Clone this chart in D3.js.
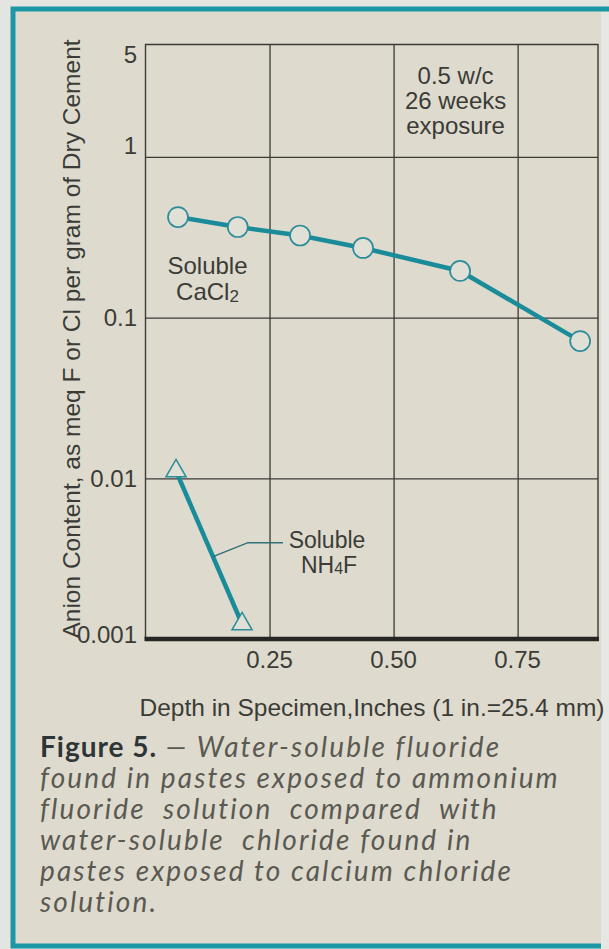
<!DOCTYPE html>
<html>
<head>
<meta charset="utf-8">
<script src="https://cdnjs.cloudflare.com/ajax/libs/d3/7.8.5/d3.min.js"></script>
<style>
  body { margin: 0; background: #e3e6e0; }
  svg { display: block; }
  .sans { font-family: "Liberation Sans", Arial, Helvetica, sans-serif; fill: #3b3b37; font-size: 24px; }
  .cap { font-family: Lato, "Open Sans", sans-serif; fill: #5a5952; }
</style>
</head>
<body>
<svg width="609" height="949"></svg>
<script>
// depth in inches / anion content (meq per gram of dry cement)
var depthCaCl2   = [0.0655, 0.186, 0.3115, 0.4385, 0.634, 0.876];
var solubleCaCl2 = [0.422, 0.366, 0.324, 0.271, 0.195, 0.0714];
var depthNH4F    = [0.0615, 0.1946];
var solubleNH4F  = [0.0111, 0.00124];

var xTicks      = [0.25, 0.50, 0.75];
var xTickLabels = ["0.25", "0.50", "0.75"];
var yTicks      = [0.001, 0.01, 0.1, 1, 5];
var yTickLabels = ["0.001", "0.01", "0.1", "1", "5"];

var captionLines = [
  "found in pastes exposed to ammonium",
  "fluoride  solution  compared  with",
  "water-soluble  chloride found in",
  "pastes exposed to calcium chloride",
  "solution."
];

var svg = d3.select("svg");

// page + teal frame
svg.append("rect").attr("x", 13).attr("y", 9).attr("width", 700).attr("height", 937)
    .attr("fill", "#dedbce").attr("stroke", "#1b97a6").attr("stroke-width", 5);
svg.append("rect").attr("x", 601).attr("y", 12).attr("width", 8).attr("height", 937)
    .attr("fill", "#e6e7e2");

var x = d3.scaleLinear().domain([0, 0.912]).range([145.5, 598]);
var y = d3.scaleLog().domain([0.001, 5]).range([639, 44.5]);

var g = svg.append("g");

// grid lines through the plot
g.append("g")
    .attr("transform", "translate(0," + y(0.001) + ")")
    .call(d3.axisBottom(x).tickValues(xTicks).tickSize(-(y(0.001) - y(5))).tickFormat(""))
    .call(function (a) { a.select(".domain").remove(); });
g.append("g")
    .attr("transform", "translate(" + x(0) + ",0)")
    .call(d3.axisLeft(y).tickValues([0.01, 0.1, 1]).tickSize(-(x.range()[1] - x(0))).tickFormat(""))
    .call(function (a) { a.select(".domain").remove(); });
g.selectAll(".tick line").attr("stroke", "#3a3a36").attr("stroke-width", 1.3);

// plot border, heavy base line
g.append("path")
    .attr("d", "M" + x(0) + "," + y(0.001) + "V" + y(5) + "H" + x.range()[1] + "V" + y(0.001))
    .attr("fill", "none").attr("stroke", "#3a3a36").attr("stroke-width", 1.4);
g.append("line")
    .attr("x1", x(0) - 1).attr("x2", x.range()[1] + 1)
    .attr("y1", y(0.001)).attr("y2", y(0.001))
    .attr("stroke", "#262623").attr("stroke-width", 4.5);

// tick labels
g.selectAll(".xlab").data(xTicks).enter().append("text")
    .attr("class", "sans xlab")
    .attr("x", function (d) { return x(d); })
    .attr("y", 668)
    .attr("text-anchor", "middle")
    .text(function (d, i) { return xTickLabels[i]; });

var yNudge = { "5": 10, "1": -11, "0.1": 0, "0.01": 0, "0.001": -5 };
g.selectAll(".ylab").data(yTicks).enter().append("text")
    .attr("class", "sans ylab")
    .attr("x", 137)
    .attr("y", function (d) { return y(d) + yNudge[String(d)]; })
    .attr("dy", "0.36em")
    .attr("text-anchor", "end")
    .text(function (d, i) { return yTickLabels[i]; });

// axis titles
svg.append("text")
    .attr("class", "sans")
    .style("font-size", "24.5px")
    .attr("transform", "translate(80,339) rotate(-90)")
    .attr("text-anchor", "middle")
    .text("Anion Content,  as meq F or Cl per gram of Dry Cement");
svg.append("text")
    .attr("class", "sans")
    .style("font-size", "24.5px")
    .attr("x", 372).attr("y", 716)
    .attr("text-anchor", "middle")
    .text("Depth in Specimen,Inches (1 in.=25.4 mm)");

// series
var teal = "#1a8c99";
var line = d3.line()
    .x(function (d) { return x(d[0]); })
    .y(function (d) { return y(d[1]); });

var caPts = d3.zip(depthCaCl2, solubleCaCl2);
var nhPts = d3.zip(depthNH4F, solubleNH4F);

g.append("path").datum(caPts).attr("d", line)
    .attr("fill", "none").attr("stroke", teal).attr("stroke-width", 4.5);
g.append("path").datum(nhPts).attr("d", line)
    .attr("fill", "none").attr("stroke", teal).attr("stroke-width", 4.5);

g.selectAll(".ca").data(caPts).enter().append("circle")
    .attr("cx", function (d) { return x(d[0]); })
    .attr("cy", function (d) { return y(d[1]); })
    .attr("r", 10)
    .attr("fill", "#e0e0d6").attr("stroke", "#2b8c9a").attr("stroke-width", 1.7);

g.selectAll(".nh").data(nhPts).enter().append("path")
    .attr("transform", function (d) { return "translate(" + x(d[0]) + "," + y(d[1]) + ")"; })
    .attr("d", d3.symbol().type(d3.symbolTriangle).size(175))
    .attr("fill", "#e0e0d6").attr("stroke", "#2b8c9a").attr("stroke-width", 1.5);

// series labels
g.append("text").attr("class", "sans").attr("text-anchor", "middle")
    .attr("x", x(0.125)).attr("y", 274).text("Soluble");
var ca2 = g.append("text").attr("class", "sans").attr("text-anchor", "middle")
    .attr("x", x(0.125)).attr("y", 300);
ca2.append("tspan").text("CaCl");
ca2.append("tspan").attr("font-size", 17).attr("dy", 2).text("2");

// leader line to the NH4F series
var p0 = [x(nhPts[0][0]), y(nhPts[0][1])], p1 = [x(nhPts[1][0]), y(nhPts[1][1])];
var t = 0.56;
var lp = [p0[0] + (p1[0] - p0[0]) * t, p0[1] + (p1[1] - p0[1]) * t];
g.append("path")
    .attr("d", "M" + lp[0] + "," + lp[1] + "L" + (lp[0] + 35) + "," + (lp[1] - 14) + "H" + (lp[0] + 70))
    .attr("fill", "none").attr("stroke", "#2f6f77").attr("stroke-width", 1.5);

g.append("text").attr("class", "sans").attr("text-anchor", "middle")
    .style("font-size", "23px")
    .attr("x", lp[0] + 114).attr("y", lp[1] - 8.5).text("Soluble");
var nh2 = g.append("text").attr("class", "sans").attr("text-anchor", "middle")
    .style("font-size", "23px")
    .attr("x", lp[0] + 116).attr("y", lp[1] + 16.5);
nh2.append("tspan").text("NH");
nh2.append("tspan").attr("font-size", 16).attr("dy", 1).text("4");
nh2.append("tspan").attr("dy", -1).text("F");

// condition note
["0.5 w/c", "26 weeks", "exposure"].forEach(function (s, i) {
  g.append("text").attr("class", "sans").attr("text-anchor", "middle")
      .attr("x", x(0.625)).attr("y", 84 + i * 25).text(s);
});

// caption
var cap = svg.append("g").attr("class", "cap").attr("font-size", 28).attr("letter-spacing", 2.1);
var first = cap.append("text").attr("x", 40).attr("y", 757);
first.append("tspan").attr("font-weight", 700).attr("fill", "#2e3536").attr("letter-spacing", 1).text("Figure 5.");
first.append("tspan").attr("font-style", "italic").text(" \u2014 Water-soluble fluoride");
cap.selectAll(".cl").data(captionLines).enter().append("text")
    .attr("x", 40)
    .attr("y", function (d, i) { return 788 + i * 31; })
    .attr("font-style", "italic")
    .style("white-space", "pre")
    .text(function (d) { return d; });
</script>
</body>
</html>
